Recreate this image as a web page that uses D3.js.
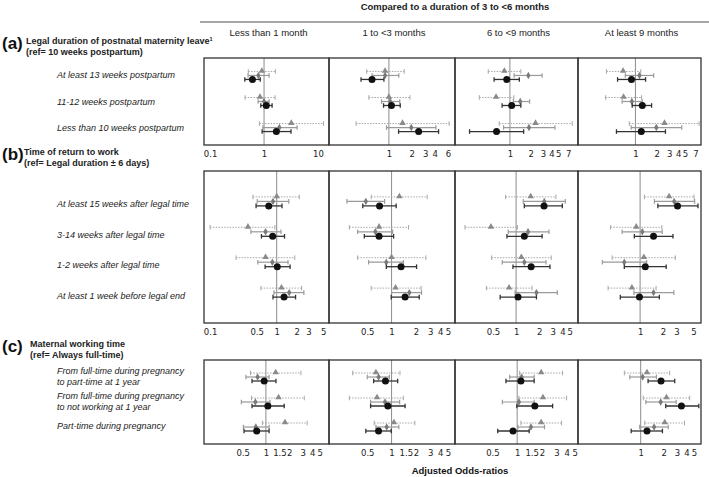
<!DOCTYPE html>
<html>
<head>
<meta charset="utf-8">
<script src="https://cdn.jsdelivr.net/npm/d3@7"></script>
<style>
  body { margin: 0; background: #fff; }
  svg { font-family: "Liberation Sans", Arial, sans-serif; }
  .tick text { font-size: 9px; fill: #222; }
</style>
</head>
<body>
<svg id="chart" width="709" height="477"></svg>
<script>
// column headings (comparison with 3 to <6 months)
const columns = ["Less than 1 month", "1 to <3 months", "6 to <9 months", "At least 9 months"];

const rowsA = ["At least 13 weeks postpartum", "11-12 weeks postpartum", "Less than 10 weeks postpartum"];
const rowsB = ["At least 15 weeks after legal time", "3-14 weeks after legal time", "1-2 weeks after legal time", "At least 1 week before legal end"];
const rowsC = [["From full-time during pregnancy", "to part-time at 1 year"],
               ["From full-time during pregnancy", "to not working at 1 year"],
               ["Part-time during pregnancy"]];

// [column][row] = [odds ratio, lower CI, upper CI]
// tri = grey triangle (dotted CI), dia = grey diamond, dot = black circle
const triA = [
  [[0.91, 0.51, 1.62], [0.84, 0.445, 1.6], [3.2, 0.82, 12.7]],
  [[0.89, 0.51, 1.59], [1.0, 0.545, 1.89], [1.51, 0.37, 6.2]],
  [[0.83, 0.485, 1.44], [0.63, 0.36, 1.14], [2.35, 0.70, 8.0]],
  [[0.67, 0.39, 1.19], [0.68, 0.38, 1.22], [2.57, 0.82, 7.9]]
];
const diaA = [
  [[0.785, 0.505, 1.24], [1.0, 0.775, 1.24], [1.92, 0.95, 4.1]],
  [[0.89, 0.60, 1.35], [1.04, 0.80, 1.39], [1.97, 0.93, 4.15]],
  [[1.85, 1.15, 2.93], [1.41, 1.12, 1.93], [1.89, 0.81, 4.5]],
  [[1.14, 0.72, 1.81], [0.89, 0.65, 1.25], [1.97, 0.87, 4.5]]
];
const dotA = [
  [[0.61, 0.44, 0.85], [1.10, 0.87, 1.41], [1.69, 0.92, 3.16]],
  [[0.60, 0.43, 0.86], [1.08, 0.85, 1.41], [2.46, 1.34, 4.5]],
  [[0.90, 0.59, 1.37], [1.06, 0.77, 1.44], [0.64, 0.26, 1.58]],
  [[0.88, 0.56, 1.39], [1.25, 0.90, 1.69], [1.21, 0.54, 2.65]]
];

const triB = [
  [[1.0, 0.44, 2.18], [0.37, 0.10, 0.94], [0.68, 0.245, 1.87], [1.18, 0.58, 2.37]],
  [[1.25, 0.56, 2.76], [0.70, 0.30, 1.62], [1.0, 0.38, 2.66], [1.12, 0.56, 2.32]],
  [[1.55, 0.73, 3.3], [0.47, 0.216, 1.04], [1.17, 0.48, 2.87], [0.81, 0.41, 1.61]],
  [[2.4, 1.14, 5.1], [0.89, 0.41, 1.93], [1.12, 0.43, 2.9], [0.78, 0.38, 1.62]]
];
const diaB = [
  [[0.88, 0.51, 1.52], [0.68, 0.41, 1.16], [0.86, 0.52, 1.48], [1.54, 0.91, 2.56]],
  [[0.48, 0.28, 0.82], [0.63, 0.38, 1.03], [0.86, 0.52, 1.40], [1.66, 1.0, 2.35]],
  [[2.33, 1.24, 4.37], [1.43, 0.79, 2.68], [1.28, 0.66, 2.45], [1.84, 0.97, 3.44]],
  [[2.8, 1.54, 5.2], [1.07, 0.58, 1.95], [0.62, 0.32, 1.22], [1.5, 0.83, 2.77]]
];
const dotB = [
  [[0.76, 0.49, 1.2], [0.87, 0.59, 1.31], [1.02, 0.67, 1.59], [1.29, 0.88, 1.92]],
  [[0.71, 0.44, 1.14], [0.70, 0.46, 1.06], [1.31, 0.86, 2.04], [1.47, 0.99, 2.2]],
  [[2.31, 1.28, 4.0], [1.28, 0.76, 2.18], [1.57, 0.91, 2.76], [1.06, 0.62, 1.84]],
  [[3.1, 1.71, 5.75], [1.5, 0.84, 2.7], [1.17, 0.62, 2.2], [0.98, 0.55, 1.79]]
];

const triC = [
  [[1.34, 0.63, 2.85], [1.46, 0.65, 3.15], [1.77, 0.9, 3.44]],
  [[0.64, 0.33, 1.27], [0.66, 0.30, 1.40], [1.07, 0.61, 1.94]],
  [[1.96, 1.07, 3.57], [2.06, 1.05, 4.0], [1.96, 1.11, 3.47]],
  [[1.21, 0.61, 2.4], [2.18, 1.08, 4.4], [2.07, 1.13, 3.76]]
];
const diaC = [
  [[0.78, 0.55, 1.10], [0.73, 0.48, 1.13], [0.74, 0.51, 1.10]],
  [[0.69, 0.50, 0.94], [0.83, 0.55, 1.26], [0.87, 0.64, 1.23]],
  [[1.13, 0.81, 1.61], [1.05, 0.66, 1.61], [1.47, 1.02, 2.15]],
  [[1.06, 0.72, 1.61], [1.83, 1.17, 2.92], [1.5, 0.97, 2.3]]
];
const dotC = [
  [[0.95, 0.66, 1.35], [1.06, 0.66, 1.73], [0.76, 0.52, 1.10]],
  [[0.84, 0.60, 1.19], [0.9, 0.55, 1.47], [0.69, 0.48, 0.99]],
  [[1.11, 0.73, 1.61], [1.64, 0.99, 2.7], [0.89, 0.58, 1.40]],
  [[1.85, 1.25, 2.8], [3.43, 2.13, 5.8], [1.21, 0.75, 1.93]]
];

// tick labels and axis limits of every panel
const ticksA = [[0.1, 1, 10], [1, 2, 3, 4, 6], [1, 2, 3, 4, 5, 7], [1, 2, 3, 4, 5, 7]];
const ticksB = [[0.1, 0.5, 1, 2, 3, 5], [0.5, 1, 2, 3, 4, 5], [0.5, 1, 2, 3, 4, 5], [1, 2, 3, 5]];
const ticksC = [[0.5, 1, 1.5, 2, 3, 4, 5], [0.5, 1, 1.5, 2, 3, 4, 5], [0.5, 1, 1.5, 2, 3, 4, 5], [1, 2, 3, 4, 5]];
const domainsA = [[0.077, 16], [0.163, 7.4], [0.16, 9.7], [0.155, 8.4]];
const domainsB = [[0.081, 6.1], [0.168, 6.1], [0.16, 6.4], [0.153, 6.3]];
const domainsC = [[0.157, 6.6], [0.168, 6.1], [0.175, 5.5], [0.15, 6.2]];

const svg = d3.select("#chart");

// horizontal layout of the 4 columns
const colEdges = [204, 329, 455, 578, 701];

const sections = [
  { letter: "(a)", title: "Legal duration of postnatal maternity leave", sup: "1", ref: "(ref= 10 weeks postpartum)",
    headY: 44, titleX: 26, rows: rowsA, tri: triA, dia: diaA, dot: dotA, ticks: ticksA, domains: domainsA,
    top: 58, bottom: 145, pad: 0.67, spread: 4, labelDy: 1 },
  { letter: "(b)", title: "Time of return to work", ref: "(ref= Legal duration \u00b1 6 days)",
    headY: 155, titleX: 24, rows: rowsB, tri: triB, dia: diaB, dot: dotB, ticks: ticksB, domains: domainsB,
    top: 171, bottom: 323, pad: 1.0, spread: 4.5, labelDy: 4 },
  { letter: "(c)", title: "Maternal working time", ref: "(ref= Always full-time)",
    headY: 347, titleX: 30, rows: rowsC, tri: triC, dia: diaC, dot: dotC, ticks: ticksC, domains: domainsC,
    top: 360, bottom: 444, pad: 0.68, spread: 4, labelDy: 0 }
];

// top header
svg.append("text")
    .attr("x", 455).attr("y", 10)
    .attr("text-anchor", "middle")
    .style("font-size", "9.5px").style("font-weight", "bold").style("fill", "#222")
    .text("Compared to a duration of 3 to <6 months");

svg.append("line")
    .attr("x1", 200).attr("x2", 709).attr("y1", 22).attr("y2", 22)
    .style("stroke", "#888").style("stroke-width", 1.5);

svg.selectAll("text.colhead")
    .data(columns)
    .enter()
    .append("text")
        .attr("class", "colhead")
        .attr("x", (d, i) => (colEdges[i] + colEdges[i + 1]) / 2 + 2)
        .attr("y", 36)
        .attr("text-anchor", "middle")
        .style("font-size", "9.5px").style("fill", "#222")
        .text(d => d);

const serieStyle = {
    tri: { ci: "#a8a8a8", width: 1, dash: "1.5,1.3", fill: "#8a8a8a" },
    dia: { ci: "#9a9a9a", width: 1.2, dash: null, fill: "#7a7a7a" },
    dot: { ci: "#333", width: 1.3, dash: null, fill: "#111" }
};

sections.forEach(sec => {
    // section heading
    svg.append("text")
        .attr("x", 2).attr("y", sec.headY + 5)
        .style("font-size", "17px").style("font-weight", "bold").style("fill", "#111")
        .text(sec.letter);

    let head = svg.append("text")
        .attr("x", sec.titleX).attr("y", sec.headY)
        .style("font-size", "9px").style("font-weight", "bold").style("fill", "#222")
        .text(sec.title);
    if (sec.sup) head.append("tspan").attr("dy", -3).style("font-size", "5.5px").text(sec.sup);

    svg.append("text")
        .attr("x", sec.titleX).attr("y", sec.headY + 11)
        .style("font-size", "9px").style("font-weight", "bold").style("fill", "#222")
        .text(sec.ref);

    let yRow = d3.scalePoint()
        .domain(d3.range(sec.rows.length))
        .range([sec.top, sec.bottom])
        .padding(sec.pad);

    let ySerie = d3.scalePoint()
        .domain(["tri", "dia", "dot"])
        .range([-sec.spread, sec.spread]);

    // row labels
    sec.rows.forEach((r, i) => {
        let lines = Array.isArray(r) ? r : [r];
        let t = svg.append("text")
            .attr("x", 57)
            .attr("y", yRow(i) + sec.labelDy - (lines.length - 1) * 5)
            .attr("dominant-baseline", "middle")
            .style("font-size", "9px").style("font-style", "italic").style("fill", "#222");
        lines.forEach((l, k) => t.append("tspan").attr("x", 57).attr("dy", k ? 10.5 : 0).text(l));
    });

    columns.forEach((c, ci) => {
        let x = d3.scaleLog()
            .domain(sec.domains[ci])
            .range([colEdges[ci], colEdges[ci + 1]]);

        let g = svg.append("g");

        // reference line at OR = 1
        g.append("line")
            .attr("x1", x(1)).attr("x2", x(1))
            .attr("y1", sec.top).attr("y2", sec.bottom)
            .style("stroke", "#8c8c8c").style("stroke-width", 1);

        ["tri", "dia", "dot"].forEach(s => {
            let st = serieStyle[s];
            let pts = sec[s][ci].map((d, ri) => ({ or: d[0], lo: d[1], hi: d[2], y: yRow(ri) + ySerie(s) }));

            let ci_g = g.selectAll(`g.ci-${s}`)
                .data(pts)
                .enter()
                .append("g")
                .attr("class", `ci-${s}`)
                .style("stroke", st.ci)
                .style("stroke-width", st.width);

            ci_g.append("line")
                .attr("x1", d => x(d.lo)).attr("x2", d => x(d.hi))
                .attr("y1", d => d.y).attr("y2", d => d.y)
                .style("stroke-dasharray", st.dash);

            ci_g.selectAll("line.cap")
                .data(d => [{ v: d.lo, y: d.y }, { v: d.hi, y: d.y }])
                .enter()
                .append("line")
                    .attr("class", "cap")
                    .attr("x1", d => x(d.v)).attr("x2", d => x(d.v))
                    .attr("y1", d => d.y - 2.3).attr("y2", d => d.y + 2.3);

            if (s === "dot") {
                g.selectAll("circle.pt")
                    .data(pts)
                    .enter()
                    .append("circle")
                        .attr("class", "pt")
                        .attr("cx", d => x(d.or)).attr("cy", d => d.y)
                        .attr("r", 3.5)
                        .style("fill", st.fill);
            } else {
                let sym = d3.symbol().type(s === "tri" ? d3.symbolTriangle : d3.symbolDiamond).size(s === "tri" ? 18 : 16);
                g.selectAll(`path.pt-${s}`)
                    .data(pts)
                    .enter()
                    .append("path")
                        .attr("class", `pt-${s}`)
                        .attr("d", sym)
                        .attr("transform", d => `translate(${x(d.or)},${d.y - (s === "tri" ? 0.5 : 0)})`)
                        .style("fill", st.fill);
            }
        });

        // panel frame
        g.append("rect")
            .attr("x", colEdges[ci]).attr("y", sec.top)
            .attr("width", colEdges[ci + 1] - colEdges[ci])
            .attr("height", sec.bottom - sec.top)
            .style("fill", "none").style("stroke", "#333").style("stroke-width", 1.3);

        // axis labels
        let axis = d3.axisBottom(x)
            .tickValues(sec.ticks[ci])
            .tickSize(0)
            .tickPadding(6)
            .tickFormat(d3.format("~g"));

        svg.append("g")
            .attr("transform", `translate(0, ${sec.bottom})`)
            .call(axis)
            .call(a => a.select(".domain").remove())
            .selectAll("text")
            .style("font-family", "'DejaVu Sans', sans-serif")
            .style("font-size", "8.5px");
    });
});

svg.append("text")
    .attr("x", 460).attr("y", 474)
    .attr("text-anchor", "middle")
    .style("font-size", "9.5px").style("font-weight", "bold").style("fill", "#111")
    .text("Adjusted Odds-ratios");
</script>
</body>
</html>
